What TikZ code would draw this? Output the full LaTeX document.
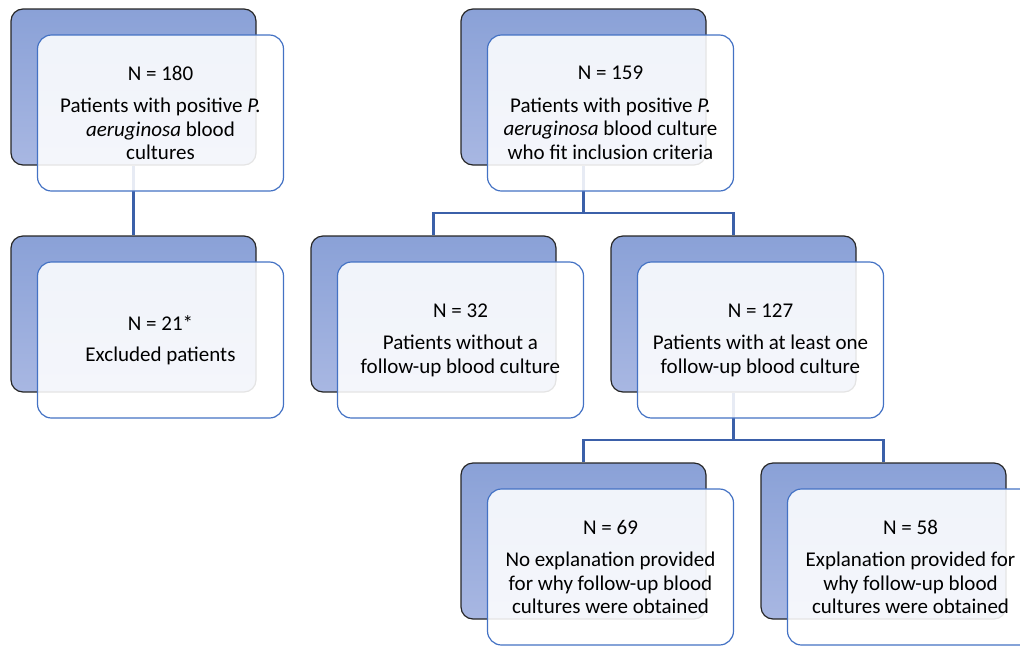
\documentclass[tikz,border=0pt]{standalone}
\usepackage{fontspec}
\setmainfont{Carlito}
\usetikzlibrary{positioning,calc}
\definecolor{backtop}{HTML}{8AA1D7}
\definecolor{backbot}{HTML}{A8B7E2}
\definecolor{frontline}{HTML}{4472C4}
\definecolor{linkblue}{HTML}{3B60A9}
\tikzset{
    backbox/.style={draw=black!85,line width=1.2pt,rounded corners=12pt,
        top color=backtop,bottom color=backbot,
        minimum width=245pt,minimum height=156pt},
    frontbox/.style={draw=frontline,line width=1.2pt,rounded corners=14pt,
        fill=white,fill opacity=0.88,text opacity=1,
        minimum width=246pt,minimum height=156pt,align=center,
        font=\fontsize{21}{23.5}\selectfont},
    link/.style={draw=linkblue,line width=2.5pt},
}

\begin{document}
\begin{tikzpicture}[x=1pt,y=-1pt]
\useasboundingbox (0,0) rectangle (1020,646);
\clip (0,0) rectangle (1020,646);

% back boxes
\foreach \nm/\x/\y in {all/133.5/87, excl/133.5/314, incl/583.5/87,
    nofu/433.5/314, fu/733.5/314, noexp/583.5/541, exp/883.5/541}
  {
    \node[backbox] (\nm-b) at (\x,\y) {};
  }

% connectors
\coordinate (j1) at (583.5,213);
\coordinate (j2) at (733.5,440);
\draw[link] (all-b.south) -- (excl-b.north);
\draw[link] (incl-b.south) -- (j1) -| (nofu-b.north);
\draw[link] (j1) -| (fu-b.north);
\draw[link] (fu-b.south) -- (j2) -| (noexp-b.north);
\draw[link] (j2) -| (exp-b.north);

% front boxes
\node[frontbox] (all) at ([shift={(27,26)}]all-b.center)
    {N = 180\\[9pt]Patients with positive \textit{P.}\\\textit{aeruginosa} blood\\cultures};
\node[frontbox] (excl) at ([shift={(27,26)}]excl-b.center)
    {N = 21*\\[8pt]Excluded patients};
\node[frontbox] (incl) at ([shift={(27,26)}]incl-b.center)
    {N = 159\\[9pt]Patients with positive \textit{P.}\\\textit{aeruginosa} blood culture\\who fit inclusion criteria};
\node[frontbox] (nofu) at ([shift={(27,26)}]nofu-b.center)
    {N = 32\\[9pt]Patients without a\\follow-up blood culture};
\node[frontbox] (fu) at ([shift={(27,26)}]fu-b.center)
    {N = 127\\[9pt]Patients with at least one\\follow-up blood culture};
\node[frontbox] (noexp) at ([shift={(27,26)}]noexp-b.center)
    {N = 69\\[9pt]No explanation provided\\for why follow-up blood\\cultures were obtained};
\node[frontbox] (exp) at ([shift={(27,26)}]exp-b.center)
    {N = 58\\[9pt]Explanation provided for\\why follow-up blood\\cultures were obtained};

\end{tikzpicture}
\end{document}
